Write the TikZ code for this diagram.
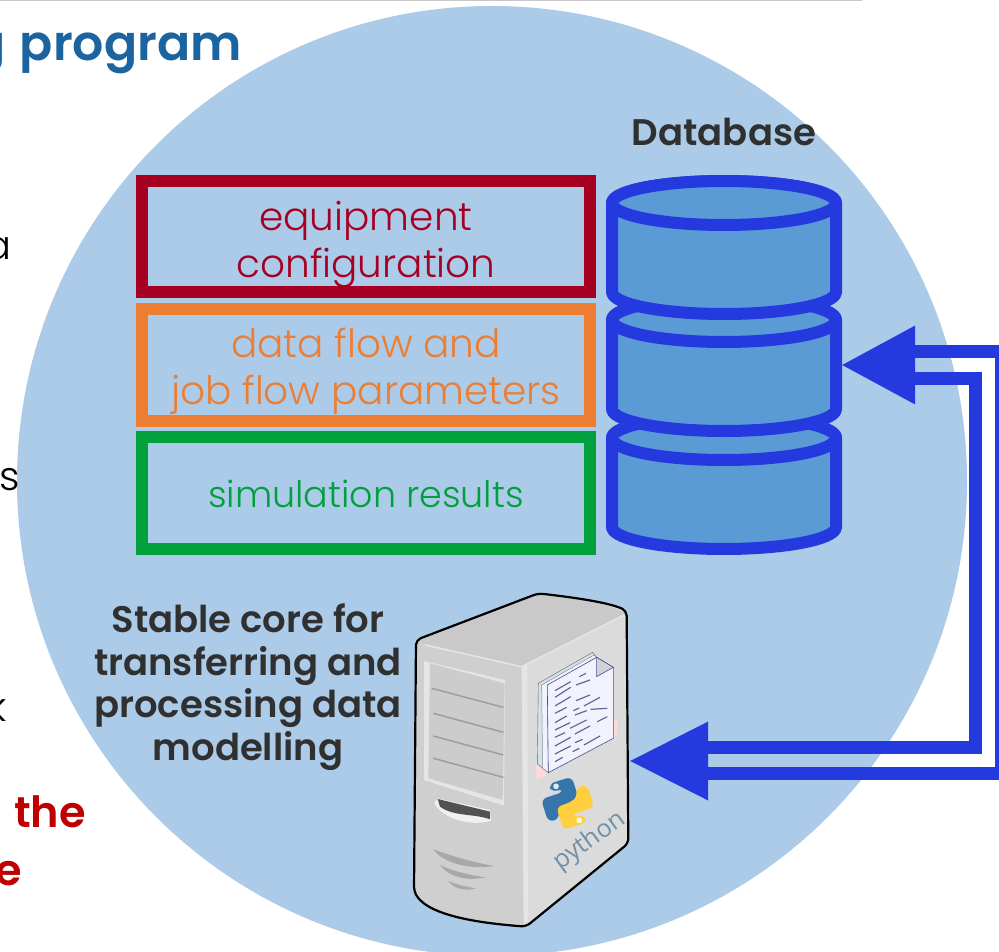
\documentclass[tikz,border=0pt]{standalone}
\usepackage{fontspec}
\setmainfont{Poppins}
\newfontfamily\lightf{Poppins Light}
\newfontfamily\semif{Poppins SemiBold}
\newfontfamily\pyf{Open Sans}
\usetikzlibrary{calc}
\definecolor{disc}{HTML}{ACCBE8}
\definecolor{dbfill}{HTML}{5B9BD5}
\definecolor{flowblue}{HTML}{2439DE}
\definecolor{titleblue}{HTML}{1B64A0}
\definecolor{cfgred}{HTML}{A50021}
\definecolor{floworange}{HTML}{ED7D31}
\definecolor{resgreen}{HTML}{00A03C}
\definecolor{darktxt}{HTML}{303030}
\definecolor{alertred}{HTML}{C00000}
\definecolor{pyblue}{HTML}{3776AB}
\definecolor{pyyellow}{HTML}{FFCF3F}
\definecolor{pytext}{HTML}{6F90AA}
\tikzset{
  x=1pt,y=-1pt,
  databox/.style={draw=#1,text=#1,line width=12pt,minimum width=448pt,font=\lightf\fontsize{39}{47}\selectfont,align=center,inner sep=0pt,text depth=0pt},
  flowline/.style={draw=flowblue,line width=13pt,line join=miter},
  flowhead/.style={fill=flowblue},
  dblayer/.style={fill=dbfill,draw=flowblue,line width=12pt,line join=round},
  heading/.style={font=\semif\fontsize{37}{42.7}\selectfont,text=darktxt,align=center,inner sep=0pt},
  cutoff/.style={font=\lightf\fontsize{40}{46}\selectfont,text=black,anchor=base east,inner sep=0pt},
  cutred/.style={font=\semif\fontsize{43}{46}\selectfont,text=alertred,anchor=base east,inner sep=0pt},
}
\begin{document}
\begin{tikzpicture}
\useasboundingbox (0,0) rectangle (999,952);
\clip (0,0) rectangle (999,952);
\fill[white] (0,0) rectangle (999,952);
\fill[disc] (492,481) circle[radius=475pt];
\draw[black!22,line width=1.5pt] (0,0.7) -- (862,0.7);
% cut-off texts of the slide
\node[font=\semif\fontsize{49}{50}\selectfont,text=titleblue,anchor=base east,inner sep=0pt] (title) at (242,61) {g\hspace{3pt} program};
\node[cutoff] (fa) at (12,259) {a};
\node[cutoff] (fs) at (20,490) {s};
\node[cutoff] (fk) at (7,721) {k};
\node[cutred] (fthe) at (86,827) {the};
\node[cutred] (fe) at (22,885) {e};
% boxes
\node[databox=cfgred,minimum height=111pt] (cfg) at (366,236.5) {\raisebox{-6pt}{equipment}\\\raisebox{-6pt}{configuration}};
\node[databox=floworange,minimum height=112pt] (par) at (366,365) {\raisebox{-3pt}{data flow and}\\\raisebox{-3pt}{job flow parameters}};
\node[databox=resgreen,minimum height=112pt,font=\lightf\fontsize{36.5}{47}\selectfont] (res) at (366,493) {\raisebox{-2pt}{simulation results}};
% database
\foreach \c in {438,320,203}{
  \path[dblayer] (612,\c) arc[start angle=180,end angle=0,x radius=112pt,y radius=22pt]
     -- (836,\c+89) arc[start angle=360,end angle=180,x radius=112pt,y radius=22pt] -- cycle;
  \path[dblayer] (724,\c) ellipse[x radius=112pt,y radius=22pt];
}
\node[minimum width=236pt,minimum height=380pt,inner sep=0pt] (db) at (724,365) {};
\node[heading,anchor=center] (dbt) at (724,132) {Database};
\node[heading] (core) at (248,687) {Stable core for\\transferring and\\processing data\\modelling};
% server
\node[minimum width=217pt,minimum height=338pt,inner sep=0pt] (srv) at (521.5,761) {};
\begin{scope}[shift={(400,580)},x=0.3333pt,y=-0.3333pt]
  \fill[black!14] (48,180) -- (415,40) .. controls (500,50) and (620,65) .. (680,92) -- (685,790) -- (378,1040)
     .. controls (250,1030) and (90,1010) .. (42,935) -- cycle;
  \fill[black!21] (50,185) -- (415,42) .. controls (500,50) and (620,65) .. (678,100) -- (365,260) -- cycle;
  \fill[black!19] (50,185) -- (365,260) -- (370,1035) .. controls (250,1030) and (90,1010) .. (44,935) -- cycle;
  \fill[black!10] (365,260) -- (382,256) -- (385,1022) -- (372,1035) -- cycle;
  \draw[black!10,line width=1.5pt] (75,195) -- (365,260) -- (672,105);
  % front panel
  \fill[black!10] (72,243) -- (315,300) -- (312,677) -- (72,600) -- cycle;
  \fill[black!20] (90,250) -- (314,310) -- (308,660) -- (85,595) -- cycle;
  \foreach \a/\b in {95/325,100/400,100/468,100/535}{
    \draw[black!38,line width=1.5pt] (\a,\b) -- (310,\b+57);
  }
  \fill[black!6] (103,670) .. controls (130,720) and (220,740) .. (273,722) -- (270,690) -- (113,655) -- cycle;
  \fill[black!68] (113,657) -- (270,695) -- (270,718) .. controls (220,700) and (160,710) .. (120,680) -- cycle;
  \fill[black!34] (100,808) .. controls (160,830) and (230,850) .. (285,858) .. controls (210,870) and (130,850) .. (100,808) -- cycle;
  \fill[black!34] (120,855) .. controls (160,875) and (210,885) .. (255,892) .. controls (200,905) and (145,890) .. (120,855) -- cycle;
  \fill[black!34] (145,903) .. controls (170,915) and (200,920) .. (228,925) .. controls (195,935) and (160,925) .. (145,903) -- cycle;
  % outline
  \draw[black,line width=2.2pt,line join=round,rounded corners=5pt] (48,180) -- (415,40) .. controls (500,50) and (620,65) .. (680,92) -- (685,790) -- (378,1040)
     .. controls (250,1030) and (90,1010) .. (42,935) -- cycle;
  % document
  \fill[pink!60] (408,550) -- (440,572) -- (440,585) -- (410,600) -- cycle;
  \fill[pink!60] (640,420) -- (652,418) -- (652,465) -- (640,472) -- cycle;
  \fill[black!45!cyan!20!white,draw=black!60] (415,310) -- (578,217) -- (590,232) -- (442,318) -- (445,578) -- (412,552) -- cycle;
  \fill[blue!5!white,draw=black!45,line width=0.5pt] (425,315) -- (582,225) -- (590,232) -- (442,318) -- (445,578) -- (428,565) -- cycle;
  \fill[blue!5!white,draw=black!60!blue!70,line width=0.6pt] (442,315) -- (590,232) -- (640,262) -- (640,475) -- (445,578) -- cycle;
  \fill[blue!22!black!18!white,draw=black!60!blue!70,line width=0.6pt] (590,232) -- (640,262) -- (590,290) -- cycle;
  \foreach \p/\q/\r/\s in {
    465/332/512/305, 538/290/558/280,
    465/352/512/322, 528/315/570/300,
    465/378/512/350, 528/362/570/345,
    465/400/500/382, 520/392/538/384, 552/378/600/352,
    465/428/500/408, 525/405/560/392, 572/388/622/385,
    465/450/510/428, 510/445/560/420, 592/425/622/410,
    465/472/495/458, 525/462/570/438,
    465/498/512/472, 525/488/548/478, 552/495/600/468,
    465/522/512/498, 518/515/538/505,
    465/545/488/532}{
    \draw[black!70!blue!60,line width=1.2pt] (\p,\q) -- (\r,\s);
  }
  % python logo
  \begin{scope}[shift={(503,670)},rotate=18,scale=1.45]
    \fill[pyblue,rounded corners=6pt] (-25,-50) -- (25,-50) -- (25,0) -- (-8,0) -- (-25,8) -- (-25,25) -- (-50,25) -- (-50,-25) -- (0,-25) -- (0,-32) -- (-25,-32) -- cycle;
    \fill[pyyellow,rounded corners=6pt] (25,50) -- (-25,50) -- (-25,0) -- (8,0) -- (25,-8) -- (25,-25) -- (50,-25) -- (50,25) -- (0,25) -- (0,32) -- (25,32) -- cycle;
    \fill[white!85!pyblue] (-12,-41) circle[radius=2pt];
    \fill[white!85!pyyellow] (12,41) circle[radius=2pt];
  \end{scope}
\end{scope}
\node[font=\pyf\fontsize{25}{25}\selectfont,text=pytext,rotate=36,inner sep=0pt] (py) at (590,841) {python};
% connectors
\coordinate (tipA) at (db.east);
\coordinate (tipB) at (srv.east);
\coordinate (baseA) at ($(tipA)+(73,0)$);
\coordinate (baseB) at ($(tipB)+(78,0)$);
\draw[flowline] ($(baseA)+(-1,-13.5)$) -- (1001.5,351.5) -- (1001.5,773.5) -- ($(baseB)+(-1,12.5)$);
\draw[flowline] ($(baseA)+(-1,13.5)$) -- (975.5,378.5) -- (975.5,747.5) -- ($(baseB)+(-1,-13.5)$);
\fill[flowhead] (tipA) -- ($(baseA)+(0,-39.5)$) -- ($(baseA)+(0,39.5)$) -- cycle;
\fill[flowhead] (tipB) -- ($(baseB)+(0,-39.5)$) -- ($(baseB)+(0,39.5)$) -- cycle;
\end{tikzpicture}
\end{document}
